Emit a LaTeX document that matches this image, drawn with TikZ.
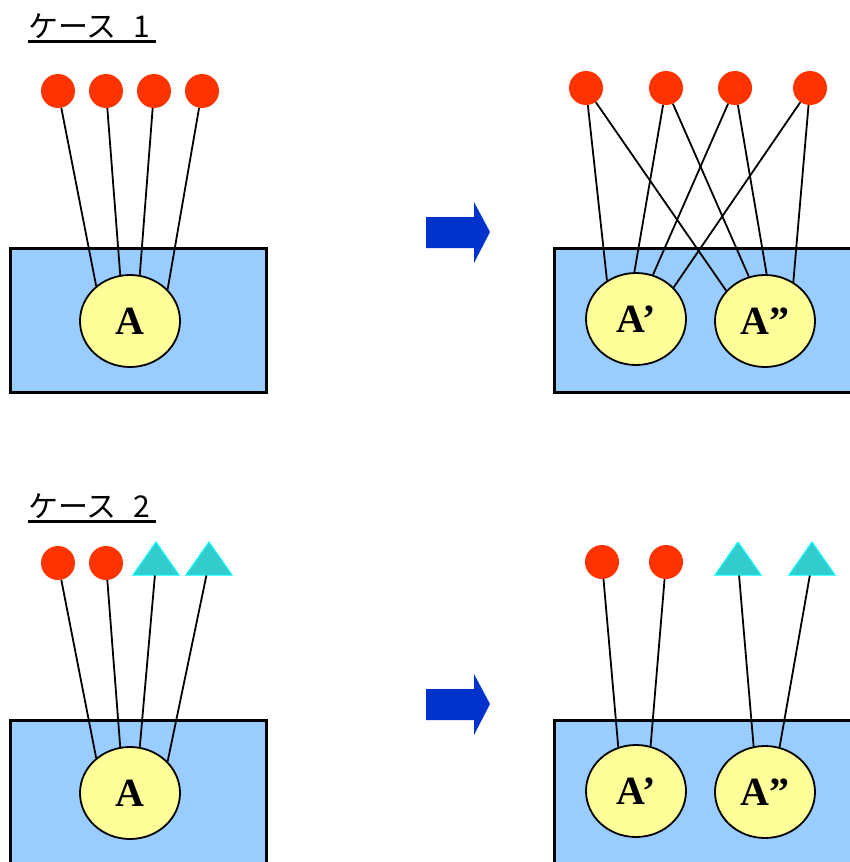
\documentclass[tikz,border=0pt]{standalone}
\usepackage{fontspec}
\setmainfont{Liberation Serif}
\newfontfamily\jpfont{Noto Sans CJK JP}
\usepackage{tikz}
\usetikzlibrary{shapes}
\definecolor{dotred}{HTML}{FF3300}
\definecolor{trayblue}{HTML}{99CCFF}
\definecolor{coreyellow}{HTML}{FFFF99}
\definecolor{trifill}{HTML}{33CCCC}
\definecolor{triedge}{HTML}{00FFFF}
\definecolor{arrowblue}{HTML}{0033CC}
\tikzset{
	ball/.style={circle,fill=dotred,minimum size=34pt,inner sep=0pt},
	tri/.style={isosceles triangle,isosceles triangle stretches,shape border rotate=90,
		draw=triedge,line width=1pt,fill=trifill,minimum width=46pt,minimum height=33pt,inner sep=0pt},
	core/.style={ellipse,draw,line width=1.8pt,fill=coreyellow,minimum width=100pt,
		minimum height=92pt,inner sep=0pt,font=\fontsize{40}{42}\selectfont\bfseries},
	tray/.style={draw,line width=3pt,fill=trayblue},
	wire/.style={line width=1.8pt},
	case/.style={font=\jpfont\fontsize{30}{32}\selectfont,anchor=base west,inner sep=0pt},
	bigarrow/.style={fill=arrowblue}
}

\begin{document}
\begin{tikzpicture}[x=1pt,y=-1pt]
	\clip (0,0) rectangle (850,862);
	% case 1, before
	\node [case] (t1) at (28,37) {ケース\hspace{0.55em}1};
	\draw [line width=3pt] ([yshift=-4.7pt]t1.base west) -- ([yshift=-4.7pt,xshift=6pt]t1.base east);
	\draw [tray] (10,248) rectangle (266,392);
	\node [core] (a) at (130,321) {A};
	\foreach \x [count=\i] in {58,106,154,202}
		\node [ball] (p\i) at (\x,91) {};
	\draw [wire] (p1) -- (a.134);
	\draw [wire] (p2) -- (a.102);
	\draw [wire] (p3) -- (a.78);
	\draw [wire] (p4) -- (a.40);
	\fill [bigarrow] (426,217) -- (474,217) -- (474,202) -- (490,232) -- (474,263) -- (474,248) -- (426,248) -- cycle;
	% case 1, after
	\draw [tray] (554,248) rectangle (900,392);
	\node [core] (a1) at (636,319) {A’};
	\node [core] (a2) at (765,321) {A”};
	\foreach \x [count=\i] in {586,666,735,810}
		\node [ball] (q\i) at (\x,88) {};
	\draw [wire] (q1) -- (a1.127);
	\draw [wire] (q1) -- (a2.142);
	\draw [wire] (q2) -- (a1.92);
	\draw [wire] (q2) -- (a2.110);
	\draw [wire] (q3) -- (a1.69);
	\draw [wire] (q3) -- (a2.88);
	\draw [wire] (q4) -- (a1.40);
	\draw [wire] (q4) -- (a2.54);

	% case 2, before
	\node [case] (t2) at (28,517) {ケース\hspace{0.55em}2};
	\draw [line width=3pt] ([yshift=-4.7pt]t2.base west) -- ([yshift=-4.7pt,xshift=6pt]t2.base east);
	\draw [tray] (10,720) rectangle (266,900);
	\node [core] (b) at (130,793) {A};
	\node [ball] (r1) at (58,563) {};
	\node [ball] (r2) at (106,563) {};
	\node [tri] (r3) at (156,563) {};
	\node [tri] (r4) at (209,563) {};
	\draw [wire] (r1) -- (b.134);
	\draw [wire] (r2) -- (b.102);
	\draw [wire] (r3) -- (b.78);
	\draw [wire] (r4) -- (b.40);
	\fill [bigarrow,shift={(0,472)}] (426,217) -- (474,217) -- (474,202) -- (490,232) -- (474,263) -- (474,248) -- (426,248) -- cycle;
	% case 2, after
	\draw [tray] (554,720) rectangle (900,900);
	\node [core] (b1) at (636,791) {A’};
	\node [core] (b2) at (765,792) {A”};
	\node [ball] (s1) at (602,562) {};
	\node [ball] (s2) at (666,562) {};
	\node [tri] (s3) at (738,563) {};
	\node [tri] (s4) at (812,563) {};
	\draw [wire] (s1) -- (b1.112);
	\draw [wire] (s2) -- (b1.72);
	\draw [wire] (s3) -- (b2.104);
	\draw [wire] (s4) -- (b2.72);
\end{tikzpicture}
\end{document}
